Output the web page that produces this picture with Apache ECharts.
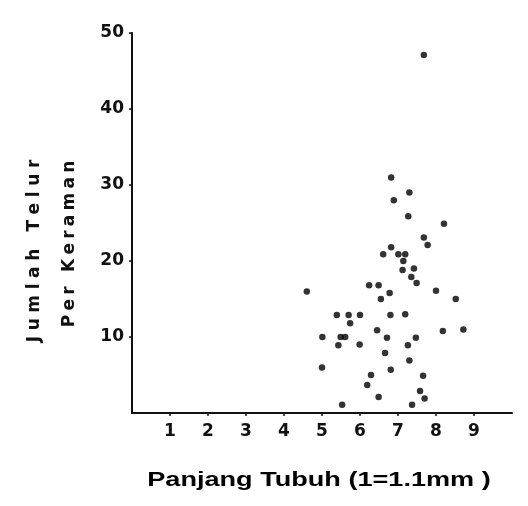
<!DOCTYPE html>
<html>
<head>
<meta charset="utf-8">
<script src="https://cdn.jsdelivr.net/npm/echarts@6/dist/echarts.min.js"></script>
<style>
  html, body { margin: 0; padding: 0; background: #fff; }
  #chart { width: 528px; height: 506px; }
</style>
</head>
<body>
<div id="chart"></div>
<script>
// body length (1 = 1.1 mm) and eggs per cluster
const bodyLength = [
  6.82, 7.30, 6.89, 7.27, 8.21, 7.68, 7.78, 6.82, 6.61, 7.01, 7.19, 7.14,
  7.12, 7.42, 7.35, 7.49, 6.24, 6.49, 4.60, 6.78, 8.00, 6.55, 8.52, 5.39,
  5.70, 6.00, 5.74, 6.80, 7.19, 6.45, 8.18, 8.72, 5.01, 5.49, 5.61, 6.71,
  7.47, 5.43, 5.99, 7.26, 6.66, 7.30, 5.00, 6.81, 6.29, 7.66, 6.19, 7.58,
  7.70, 6.49, 5.53, 7.37, 7.68
]
const eggCount = [
  31.0, 29.0, 28.0, 25.9, 24.9, 23.1, 22.1, 21.8, 20.9, 20.9, 20.9, 20.0,
  18.8, 19.0, 17.9, 17.1, 16.8, 16.8, 16.0, 15.8, 16.1, 15.0, 15.0, 12.9,
  12.9, 12.9, 11.8, 12.9, 13.0, 10.9, 10.8, 11.0, 10.0, 10.0, 10.0, 9.9,
  9.9, 8.9, 9.0, 8.9, 7.9, 6.9, 6.0, 5.7, 5.0, 4.9, 3.7, 2.9,
  1.9, 2.1, 1.1, 1.1, 47.1
]
const xTicks = [1, 2, 3, 4, 5, 6, 7, 8, 9]
const yTicks = [10, 20, 30, 40, 50]

const xTitle = 'Panjang Tubuh (1=1.1mm )'
const yTitleTop = 'Jumlah Telur'
const yTitleBottom = 'Per Keraman'

// the scan has widely spaced letters on the y title
const spaced = (s, gap) => s.split(' ').map(w => w.split('').join(gap)).join(gap + ' ' + gap)

const chart = echarts.init(document.getElementById('chart'))

const tickFont = {
  color: '#111',
  fontFamily: 'DejaVu Sans',
  fontWeight: 'bold',
  fontSize: 17
}

const option = {
  animation: false,
  backgroundColor: '#fff',
  grid: {
    left: 132,
    right: 16,
    top: 33,
    bottom: 93
  },
  xAxis: {
    type: 'value',
    min: 0,
    max: 10,
    splitLine: { show: false },
    axisLine: { lineStyle: { color: '#111', width: 2 } },
    axisTick: { customValues: xTicks, length: 3, lineStyle: { color: '#111', width: 1.5 } },
    axisLabel: Object.assign({ customValues: xTicks, margin: 10 }, tickFont)
  },
  yAxis: {
    type: 'value',
    min: 0,
    max: 50,
    splitLine: { show: false },
    axisLine: { lineStyle: { color: '#111', width: 2 } },
    axisTick: { customValues: yTicks, length: 3, lineStyle: { color: '#111', width: 1.5 } },
    axisLabel: Object.assign({ customValues: yTicks, margin: 8 }, tickFont)
  },
  graphic: [
    {
      // the caption in the figure is printed wide, so stretch it
      type: 'text',
      x: 319,
      y: 480,
      scaleX: 1.29,
      style: {
        text: xTitle,
        fill: '#000',
        font: 'bold 21px "Liberation Sans"',
        textAlign: 'center',
        textVerticalAlign: 'middle'
      }
    },
    {
      type: 'text',
      x: 35,
      y: 251,
      rotation: Math.PI / 2,
      style: {
        text: spaced(yTitleTop, '\u2004'),
        fill: '#111',
        font: 'bold 17px "DejaVu Sans"',
        textAlign: 'center',
        textVerticalAlign: 'middle'
      }
    },
    {
      type: 'text',
      x: 70,
      y: 244,
      rotation: Math.PI / 2,
      style: {
        text: spaced(yTitleBottom, '\u2005'),
        fill: '#111',
        font: 'bold 17px "DejaVu Sans"',
        textAlign: 'center',
        textVerticalAlign: 'middle'
      }
    }
  ],
  series: [{
    type: 'scatter',
    data: bodyLength.map((x, i) => [x, eggCount[i]]),
    symbolSize: 6.5,
    itemStyle: { color: '#000' }
  }]
}

chart.setOption(option)
</script>
</body>
</html>
